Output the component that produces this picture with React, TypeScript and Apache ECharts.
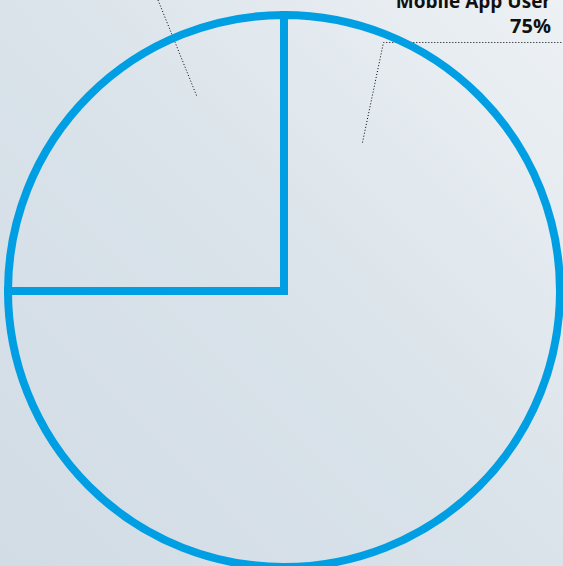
import React, { useEffect, useRef } from "react";
import * as echarts from "echarts";

const categories = ["Mobile App User", "Mobile Web User"];
const values = [75, 25];

const W = 563;
const H = 566;
const CX = 284;
const CY = 291;
const R = 276;

export default function App() {
  const ref = useRef<HTMLDivElement>(null);
  useEffect(() => {
    document.body.style.margin = "0";
    const chart = echarts.init(ref.current!, null, { renderer: "svg" });
    const p = (fx: number, fy: number) => [Math.round(CX + fx * R) + 0.5, Math.round(CY + fy * R) + 0.5];
    chart.setOption({
      animation: false,
      backgroundColor: new echarts.graphic.LinearGradient(1, 0, 0, 1, [
        { offset: 0, color: "#edf1f4" },
        { offset: 0.5, color: "#dae3ea" },
        { offset: 1, color: "#d2dce5" },
      ]),
      series: [
        {
          type: "pie",
          center: [CX, CY],
          radius: [0, R],
          startAngle: 90,
          clockwise: true,
          avoidLabelOverlap: false,
          silent: true,
          itemStyle: {
            color: "rgba(0,0,0,0)",
            borderColor: "#009fe3",
            borderWidth: 8,
            borderJoin: "miter",
          },
          label: {
            show: true,
            position: "outside",
            formatter: (d: any) => `{n|${d.name}}\n{v|${d.percent}%}`,
            rich: {
              n: { fontFamily: "Open Sans", fontWeight: "bold", fontSize: 19, lineHeight: 25, color: "#111", align: "right" },
              v: { fontFamily: "Open Sans", fontWeight: "bold", fontSize: 20, lineHeight: 25, color: "#111", align: "right" },
            },
          },
          labelLine: {
            show: true,
            lineStyle: { color: "#000", width: 1, type: [1, 2] },
          },
          labelLayout: (params: any) => {
            if (params.dataIndex === 0) {
              const a = p(0.283, -0.54);
              const b = p(0.36, -0.901);
              return {
                x: 551,
                y: 38,
                align: "right",
                verticalAlign: "bottom",
                labelLinePoints: [a, b, [W, b[1]]],
              };
            }
            const a = p(-0.319, -0.71);
            const b = p(-0.5, -1.16);
            return {
              x: b[0] - 120,
              y: b[1] - 10,
              align: "right",
              verticalAlign: "bottom",
              labelLinePoints: [a, b, [b[0] - 110, b[1]]],
            };
          },
          data: categories.map((c, i) => ({ name: c, value: values[i] })),
        },
      ],
    });
    return () => chart.dispose();
  }, []);
  return (
    <div
      ref={ref}
      style={{ position: "fixed", left: 0, top: 0, width: W, height: H }}
    />
  );
}
